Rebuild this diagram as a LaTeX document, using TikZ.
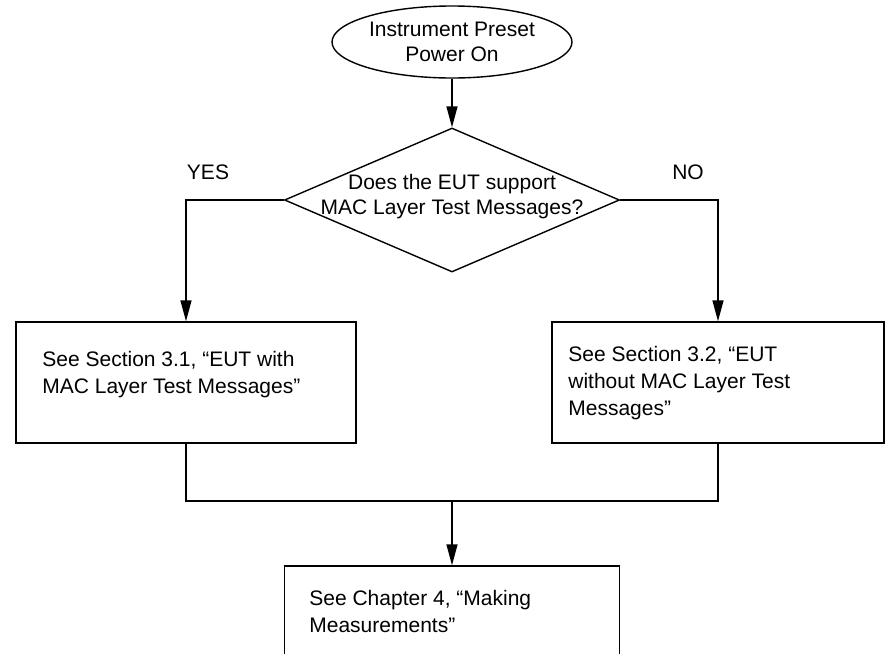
\documentclass[tikz,border=0pt]{standalone}
\usepackage{fontspec}
\setmainfont{Liberation Sans}
\usetikzlibrary{shapes.geometric,arrows.meta}

\tikzset{
	flow/.style={line width=0.7pt},
	arrow/.style={flow, -{Triangle[length=10.5pt,width=5.5pt]}},
	startnode/.style={ellipse, draw, flow, inner sep=0pt, minimum width=120pt, minimum height=36pt, align=center, font=\fontsize{10.5}{12.5}\selectfont},
	decision/.style={diamond, draw, flow, inner sep=0pt, minimum width=167.5pt, minimum height=72pt},
	stepbox/.style={rectangle, draw, flow, inner sep=0pt},
	boxtext/.style={anchor=north west, inner sep=0pt, align=left, font=\fontsize{10.5}{13.5}\selectfont},
	lbl/.style={inner sep=0pt, font=\fontsize{10.5}{12.5}\selectfont},
}

\begin{document}
\begin{tikzpicture}[x=0.5pt, y=-0.5pt]
	\useasboundingbox (0,0) rectangle (885,654);
	\clip (0,0) rectangle (885,654);
	% start and question
	\node [startnode] (start) at (452,42) {Instrument Preset\\Power On};
	\node [decision] (question) at (452,200) {};
	\node [lbl, align=center] (questiontext) at (452,197) {Does the EUT support\\MAC Layer Test Messages?};
	\node [lbl] (yes) at (208,172) {YES};
	\node [lbl] (no) at (688,172) {NO};
	% the three boxes
	\node [stepbox, minimum width=170pt, minimum height=60.5pt] (withmac) at (186,382.5) {};
	\node [stepbox, minimum width=166pt, minimum height=60.5pt] (withoutmac) at (718,382.5) {};
	\node [stepbox, minimum width=167.5pt, minimum height=60pt] (measure) at (452,626) {};
	\node [boxtext] (withmactext) at (42,350.5) {See Section 3.1, ``EUT with\\MAC Layer Test Messages''};
	\node [boxtext] (withoutmactext) at (568,345.5) {See Section 3.2, ``EUT\\without MAC Layer Test\\Messages''};
	\node [boxtext] (measuretext) at (309,590) {See Chapter 4, ``Making\\Measurements''};
	% connectors
	\draw [arrow] (start) -- (question);
	\draw [arrow] (question.west) -| (withmac.north);
	\draw [arrow] (question.east) -| (withoutmac.north);
	\coordinate (join) at (452,501);
	\draw [flow] (withmac.south) |- (join) -| (withoutmac.south);
	\draw [arrow] (join) -- (measure.north);
\end{tikzpicture}
\end{document}
